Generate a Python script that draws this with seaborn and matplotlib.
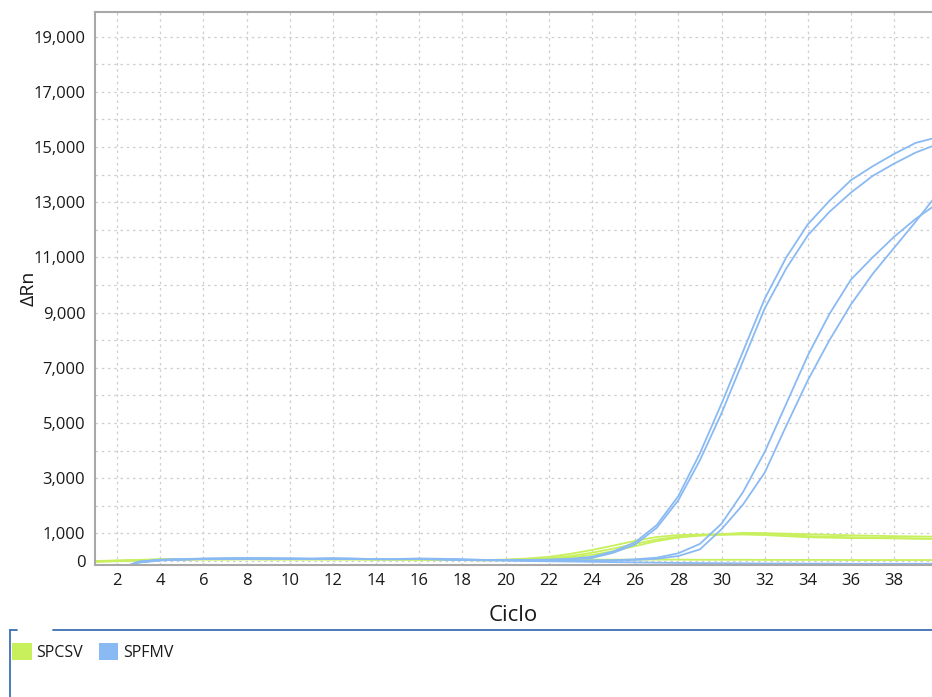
import numpy as np
import pandas as pd
import seaborn as sns
import matplotlib.pyplot as plt
from matplotlib.patches import Patch
from matplotlib.lines import Line2D

# Ciclos de la PCR
ciclos = list(range(1, 41))

# Curvas SPFMV (azul)
spfmv_1 = [-500, -330, -30, 50, 70, 90, 95, 100, 95, 90, 85, 95, 85, 70, 70, 80, 70, 50, 40, 40,
           40, 50, 80, 150, 350, 680, 1300, 2350, 3900, 5700, 7600, 9500, 11000, 12200, 13050,
           13800, 14300, 14750, 15150, 15350]
spfmv_2 = [-480, -320, -20, 40, 60, 80, 90, 90, 85, 85, 80, 90, 80, 65, 65, 75, 65, 45, 35, 35,
           35, 40, 60, 110, 300, 600, 1200, 2200, 3650, 5350, 7250, 9150, 10600, 11800, 12650,
           13350, 13950, 14400, 14800, 15100]
spfmv_3 = [-460, -300, -40, 30, 60, 80, 85, 90, 90, 85, 80, 85, 80, 70, 70, 75, 60, 40, 30, 30,
           25, 20, 20, 20, 30, 60, 120, 280, 620, 1350, 2500, 3950, 5700, 7450, 8950,
           10200, 11000, 11750, 12400, 12950]
spfmv_4 = [-470, -310, -50, 25, 55, 75, 80, 85, 85, 80, 75, 80, 75, 65, 65, 70, 55, 35, 25, 20,
           15, 10, 10, 10, 20, 40, 80, 180, 420, 1150, 2050, 3200, 4900, 6550, 8000,
           9300, 10400, 11350, 12300, 13300]
spfmv_neg = [-450, -300, -60, 20, 50, 70, 80, 85, 80, 80, 75, 80, 75, 70, 75, 90, 80, 60, 40, 20,
             0, -10, -20, -30, -40, -50, -60, -70, -75, -80, -85, -90, -90, -95, -95,
             -100, -100, -100, -100, -100]

# Curvas SPCSV (verde)
spcsv_1 = [0, 20, 40, 60, 65, 70, 70, 75, 70, 70, 70, 70, 70, 65, 65, 60, 55, 40, 35, 50,
           90, 150, 260, 400, 560, 730, 870, 940, 960, 970, 1020, 1010, 990, 970, 950,
           930, 915, 900, 890, 880]
spcsv_2 = [-10, 10, 30, 55, 60, 65, 65, 70, 65, 65, 65, 65, 65, 60, 60, 55, 50, 35, 30, 40,
           70, 100, 180, 300, 450, 620, 780, 880, 930, 950, 980, 990, 950, 900, 880,
           860, 845, 830, 815, 800]
spcsv_3 = [-20, 0, 25, 50, 55, 60, 60, 65, 60, 60, 60, 60, 60, 55, 55, 50, 45, 30, 25, 30,
           50, 70, 130, 220, 360, 540, 720, 850, 920, 960, 960, 940, 900, 860, 845,
           830, 825, 820, 810, 800]
spcsv_neg = [-30, -10, 20, 45, 50, 55, 55, 60, 55, 55, 55, 55, 55, 50, 50, 50, 45, 40, 40, 40,
             40, 45, 50, 50, 50, 50, 50, 50, 45, 45, 45, 40, 40, 40, 40,
             35, 35, 35, 35, 35]

curvas = {
    ("SPCSV", "g1"): spcsv_1, ("SPCSV", "g2"): spcsv_2,
    ("SPCSV", "g3"): spcsv_3, ("SPCSV", "g4"): spcsv_neg,
    ("SPFMV", "b1"): spfmv_1, ("SPFMV", "b2"): spfmv_2,
    ("SPFMV", "b3"): spfmv_3, ("SPFMV", "b4"): spfmv_4,
    ("SPFMV", "b5"): spfmv_neg,
}

filas = []
for (objetivo, pozo), valores in curvas.items():
    for c, v in zip(ciclos, valores):
        filas.append({"Ciclo": c, "dRn": v, "objetivo": objetivo, "pozo": pozo})
df = pd.DataFrame(filas)

colores = {"SPCSV": "#c8f05c", "SPFMV": "#8abaf3"}

sns.set_style("white")
plt.rcParams["font.family"] = ["Open Sans", "DejaVu Sans"]
plt.rcParams["text.color"] = "#1a1a1a"

fig = plt.figure(figsize=(9.32, 6.97), dpi=100)
ax = fig.add_axes([95 / 932, 1 - 565 / 697, 1 - 95 / 932, (565 - 12) / 697])

sns.lineplot(data=df, x="Ciclo", y="dRn", hue="objetivo", units="pozo",
             estimator=None, palette=colores, linewidth=1.3, legend=False,
             ax=ax, sort=False)

ax.set_xlim(0.98, 39.75)
ax.set_ylim(-145, 19890)

ax.set_xticks(range(2, 40, 2))
ax.set_yticks(range(0, 20000, 1000))
ax.set_yticklabels(["0"] + [f"{v:,}" if (v // 1000) % 2 == 1 else "" for v in range(1000, 20000, 1000)])
ax.tick_params(axis="y", length=3, width=1, color="#a0a0a0", labelcolor="#1a1a1a",
               labelsize=12, pad=4)
ax.tick_params(axis="x", length=0, labelsize=12, labelcolor="#1a1a1a", pad=6)

ax.grid(True, color="#cfcfcf", linestyle=(0, (2, 3)), linewidth=0.9)
for lado in ["left", "bottom", "top"]:
    ax.spines[lado].set_color("#a8a8a8")
    ax.spines[lado].set_linewidth(1.5)
ax.spines["right"].set_visible(False)

ax.set_xlabel("Ciclo", fontsize=16, labelpad=11, color="#1a1a1a")
ax.set_ylabel("ΔRn", fontsize=14, color="#1a1a1a")
ax.yaxis.set_label_coords(-57 / 837, 0.5)

# Marco del panel de leyenda
azul_marco = "#3d6fb5"
fig.add_artist(Line2D([10 / 932, 17 / 932], [1 - 630 / 697] * 2, color=azul_marco, lw=1.3))
fig.add_artist(Line2D([53 / 932, 1.0], [1 - 630 / 697] * 2, color=azul_marco, lw=1.3))
fig.add_artist(Line2D([10 / 932, 10 / 932], [1 - 630 / 697, 0], color=azul_marco, lw=1.3))

handles = [Patch(facecolor=colores[k], edgecolor="none", label=k) for k in colores]
fig.legend(handles=handles, loc="center left", bbox_to_anchor=(-2 / 932, 1 - 652 / 697),
           ncol=2, frameon=False, fontsize=11.5, handlelength=1.2, handleheight=1.2,
           handletextpad=0.3, columnspacing=1.0)

fig.savefig("out.png", dpi=100)
